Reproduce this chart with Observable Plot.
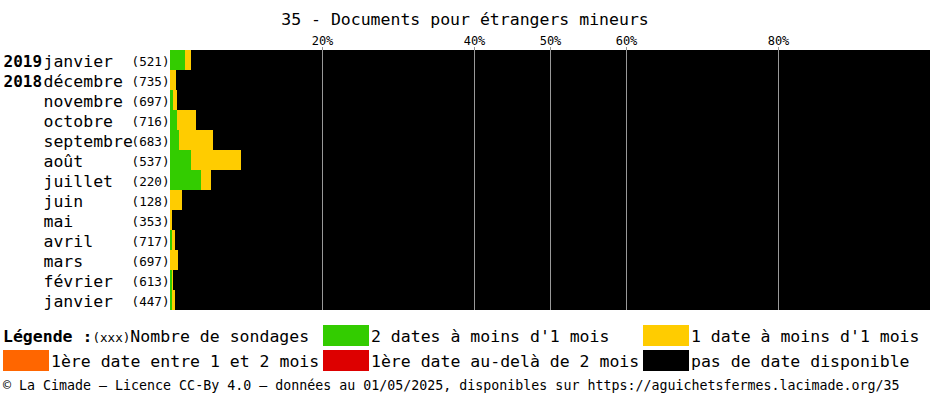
<!DOCTYPE html>
<html><head><meta charset="utf-8">
<script src="https://cdn.jsdelivr.net/npm/d3@7"></script>
<script src="https://cdn.jsdelivr.net/npm/@observablehq/plot@0.6"></script>
<style>body{margin:0;background:#fff}#c{width:930px;height:395px}</style>
</head><body><div id="c"></div>
<script>
const titleText = "35 - Documents pour étrangers mineurs";
const years  = ["2019","2018","","","","","","","","","","",""];
const months = ["janvier","décembre","novembre","octobre","septembre","août","juillet","juin","mai","avril","mars","février","janvier"];
const counts = [521,735,697,716,683,537,220,128,353,717,697,613,447];
// percentages per category
const green  = [2.0,0,0.45,0.9,1.2,2.7,4.1,0,0,0.2,0,0.25,0.2];
const yellow = [0.8,0.75,0.45,2.55,4.4,6.6,1.3,1.6,0.25,0.45,1.05,0.15,0.45];
const orange = [0,0,0,0,0,0,0,0,0,0,0,0,0];
const red    = [0,0,0,0,0,0,0,0,0,0,0,0,0];
const tickValues = [20,40,50,60,80];
const catNames = ["2 dates à moins d'1 mois","1 date à moins d'1 mois","1ère date entre 1 et 2 mois","1ère date au-delà de 2 mois","pas de date disponible"];
const catColors = ["#33cc00","#ffcc00","#ff6600","#dd0000","#000000"];
const legendTitle = "Légende :";
const legendCount = "(xxx)";
const legendCountLabel = "Nombre de sondages";
const footer = "© La Cimade — Licence CC-By 4.0 — données au 01/05/2025, disponibles sur https://aguichetsfermes.lacimade.org/35";

const keys = months.map((m,i)=>i+"-"+m);
const rows = [];
keys.forEach((k,i)=>{
  const vals=[green[i],yellow[i],orange[i],red[i]];
  const rest = 100 - vals.reduce((a,b)=>a+b,0);
  [...vals,rest].forEach((v,j)=>rows.push({key:k,cat:catNames[j],value:v}));
});
const labels = keys.map((k,i)=>({key:k,year:years[i],month:months[i],count:"("+counts[i]+")"}));
const mono = "DejaVu Sans Mono";

const svg = Plot.plot({
  width:930, height:395,
  marginTop:50, marginBottom:85, marginLeft:170, marginRight:0,
  style:{fontFamily:mono, background:"#fff"},
  x:{domain:[0,100]},
  y:{domain:keys, padding:0, axis:null},
  color:{domain:catNames, range:catColors},
  marks:[
    Plot.barX(rows,{x:"value", y:"key", fill:"cat", order:null, shapeRendering:"crispEdges"}),
    Plot.ruleX(tickValues,{stroke:"#999", strokeWidth:1}),
    Plot.axisX({anchor:"top", ticks:tickValues, tickFormat:d=>d+"%", tickSize:4, tickPadding:2, fontSize:12, fontFamily:mono, stroke:"#999", label:null, fill:"#000"}),
    Plot.text(labels,{y:"key", text:"year", frameAnchor:"left", dx:-167, textAnchor:"start", fontSize:16, fontWeight:"bold", fontFamily:mono, fill:"#000", dy:1}),
    Plot.text(labels,{y:"key", text:"month", frameAnchor:"left", dx:-127, textAnchor:"start", fontSize:16.5, fontFamily:mono, fill:"#000", dy:1}),
    Plot.text(labels,{y:"key", text:"count", frameAnchor:"left", dx:-1, textAnchor:"end", fontSize:12.6, fontFamily:mono, fill:"#000", dy:1})
  ]
});
document.getElementById("c").appendChild(svg);
const s = d3.select(svg);
s.append("text").attr("x",465).attr("y",25).attr("text-anchor","middle")
  .attr("font-family",mono).attr("font-size",16.5).attr("fill","#000").text(titleText);
// legend
const lt = s.append("text").attr("x",3).attr("y",342).attr("text-anchor","start").attr("font-family",mono).attr("fill","#000");
lt.append("tspan").attr("font-weight","bold").attr("font-size",16.5).text(legendTitle);
lt.append("tspan").attr("font-size",12.6).text(legendCount);
lt.append("tspan").attr("font-size",16.5).text(legendCountLabel);
const cells = [[323,325],[643,325],[3,350],[323,350],[643,350]];
catNames.forEach((n,i)=>{
  const [x,y]=cells[i];
  s.append("rect").attr("x",x).attr("y",y).attr("width",46).attr("height",21).attr("fill",catColors[i]);
  s.append("text").attr("x",x+48).attr("y",y+17).attr("text-anchor","start").attr("font-family",mono).attr("font-size",16.5).attr("fill","#000").text(n);
});
s.append("text").attr("x",3).attr("y",390).attr("text-anchor","start").attr("font-family",mono).attr("font-size",13.3).attr("fill","#000").text(footer);
</script></body></html>
